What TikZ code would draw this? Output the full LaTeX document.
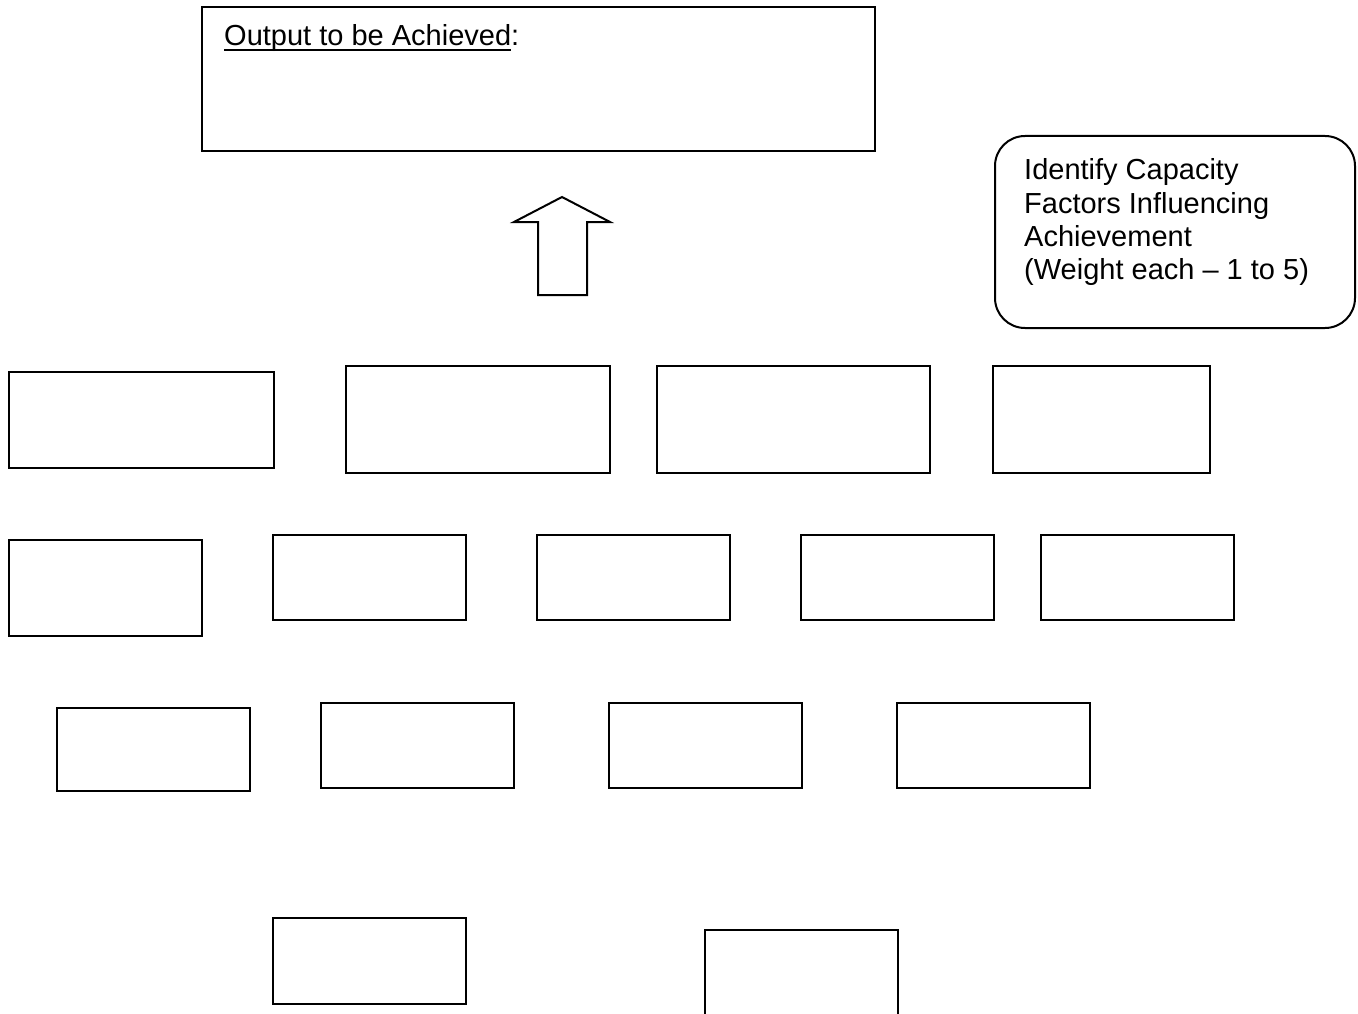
\documentclass[tikz,border=0pt]{standalone}
\usepackage{fontspec}
\setmainfont{Liberation Sans}
\newcommand\myunderline[1]{\setbox0\hbox{#1}\rlap{\rule[-5.5pt]{\wd0}{2.3pt}}\box0}
\begin{document}
\begin{tikzpicture}[x=1pt,y=-1pt,
  emptybox/.style={draw=black, line width=2pt, rectangle, inner sep=0pt, outer sep=0pt, anchor=north west, fill=white},
  labeltext/.style={inner sep=0pt, font=\fontsize{29}{33.3}\selectfont, align=left}]
\useasboundingbox (0,0) rectangle (1358,1014);
\fill[white] (0,0) rectangle (1358,1014);
% top output box
\node[emptybox, minimum width=673pt, minimum height=144pt] (output) at (202,7) {};
\node[labeltext, anchor=base west] (outlabel) at (224,46) {\myunderline{Output to be Achieved}:};
% block arrow
\draw[line width=2pt, line join=miter] (562,197) -- (610,222) -- (587,222) -- (587,295) -- (538,295) -- (538,222) -- (514,222) -- cycle;
% rounded info box
\node[draw=black, line width=2pt, rounded corners=30pt, inner sep=0pt, anchor=north west, minimum width=360pt, minimum height=192pt] (info) at (994,135) {};
\node[labeltext, anchor=north west] (infotext) at (1024,158.5) {Identify Capacity\\Factors Influencing\\Achievement\\(Weight each -- 1 to 5)};
% row 1
\node[emptybox, minimum width=265pt, minimum height=96pt] (r1a) at (9,372) {};
\node[emptybox, minimum width=264pt, minimum height=107pt] (r1b) at (346,366) {};
\node[emptybox, minimum width=273pt, minimum height=107pt] (r1c) at (657,366) {};
\node[emptybox, minimum width=217pt, minimum height=107pt] (r1d) at (993,366) {};
% row 2
\node[emptybox, minimum width=193pt, minimum height=96pt] (r2a) at (9,540) {};
\node[emptybox, minimum width=193pt, minimum height=85pt] (r2b) at (273,535) {};
\node[emptybox, minimum width=193pt, minimum height=85pt] (r2c) at (537,535) {};
\node[emptybox, minimum width=193pt, minimum height=85pt] (r2d) at (801,535) {};
\node[emptybox, minimum width=193pt, minimum height=85pt] (r2e) at (1041,535) {};
% row 3
\node[emptybox, minimum width=193pt, minimum height=83pt] (r3a) at (57,708) {};
\node[emptybox, minimum width=193pt, minimum height=85pt] (r3b) at (321,703) {};
\node[emptybox, minimum width=193pt, minimum height=85pt] (r3c) at (609,703) {};
\node[emptybox, minimum width=193pt, minimum height=85pt] (r3d) at (897,703) {};
% row 4
\node[emptybox, minimum width=193pt, minimum height=86pt] (r4a) at (273,918) {};
\node[emptybox, minimum width=193pt, minimum height=88pt] (r4b) at (705,930) {};
\end{tikzpicture}
\end{document}
